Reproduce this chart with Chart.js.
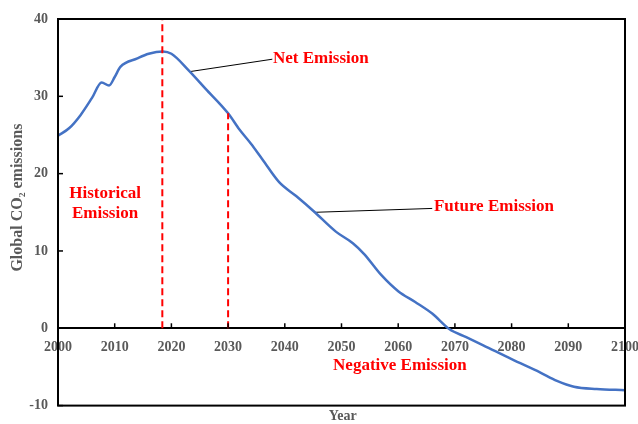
<!DOCTYPE html>
<html>
<head>
<meta charset="utf-8">
<script src="https://cdn.jsdelivr.net/npm/chart.js@4/dist/chart.umd.min.js"></script>
<style>
    html, body { margin: 0; padding: 0; background: #fff; }
    #wrap { width: 638px; height: 424px; }
</style>
</head>
<body>
<div id="wrap"><canvas id="co2-chart" width="638" height="424"></canvas></div>
<script>
// ===== Global CO2 emissions pathway, 2000-2100 =====

const years = [2000, 2002, 2004, 2006, 2007.7, 2009, 2010, 2011, 2014, 2016, 2018.5, 2020, 2023, 2026,
    2030, 2032, 2034, 2036, 2039, 2042, 2045, 2049, 2052, 2054, 2057, 2060, 2063, 2066, 2069,
    2072, 2075, 2080, 2085, 2088, 2091, 2095, 2100];
const emissions = [24.9, 25.9, 27.6, 29.8, 31.8, 31.4, 32.5, 33.8, 34.9, 35.5, 35.8, 35.5, 33.4, 31.0,
    27.8, 25.7, 23.9, 21.9, 18.9, 17.1, 15.2, 12.5, 11.0, 9.6, 6.9, 4.8, 3.4, 1.9, -0.1,
    -1.15, -2.2, -4.0, -5.7, -6.8, -7.55, -7.85, -8.0];

const xTicks = [2000, 2010, 2020, 2030, 2040, 2050, 2060, 2070, 2080, 2090, 2100];
const yTicks = [-10, 0, 10, 20, 30, 40];

// dashed markers: peak year and 2030
const peakYear = 2018.4;
const peakRange = [0, 40];
const targetYear = 2030;
const targetRange = [0, 27.8];

// leader lines from labels to the curve
const netLeaderX = [2023.3, 2037.8];
const netLeaderY = [33.2, 34.8];
const futureLeaderX = [2045.3, 2066];
const futureLeaderY = [15.0, 15.5];

// annotation labels (data coordinates)
const labels = [
    { text: 'Net Emission', x: 2037.9, y: 34.9, align: 'left' },
    { text: 'Historical', x: 2008.3, y: 17.4, align: 'center' },
    { text: 'Emission', x: 2008.3, y: 14.8, align: 'center' },
    { text: 'Future Emission', x: 2066.3, y: 15.75, align: 'left' },
    { text: 'Negative Emission', x: 2060.3, y: -4.8, align: 'center' }
];

const SERIF = "'Liberation Serif', 'Times New Roman', serif";
const GREY = '#595959';

const toPoints = (xs, ys) => xs.map((x, i) => ({ x: x, y: ys[i] }));

const decorPlugin = {
    id: 'decor',
    afterDraw(chart) {
        const { ctx, chartArea: a, scales: { x, y } } = chart;
        ctx.save();

        // plot frame
        ctx.strokeStyle = '#000';
        ctx.lineWidth = 2;
        ctx.strokeRect(a.left, a.top, a.right - a.left, a.bottom - a.top);

        // inward tick marks
        ctx.lineWidth = 1.5;
        const zero = y.getPixelForValue(0);
        xTicks.forEach(v => {
            const px = x.getPixelForValue(v);
            ctx.beginPath();
            ctx.moveTo(px, zero);
            ctx.lineTo(px, zero - 5);
            ctx.stroke();
        });
        yTicks.forEach(v => {
            const py = y.getPixelForValue(v);
            ctx.beginPath();
            ctx.moveTo(a.left, py);
            ctx.lineTo(a.left + 5, py);
            ctx.stroke();
        });

        // red annotation texts
        ctx.fillStyle = '#ff0000';
        ctx.font = 'bold 17px ' + SERIF;
        ctx.textBaseline = 'middle';
        labels.forEach(l => {
            ctx.textAlign = l.align;
            ctx.fillText(l.text, x.getPixelForValue(l.x), y.getPixelForValue(l.y));
        });

        // axis titles
        ctx.fillStyle = GREY;
        ctx.font = 'bold 14px ' + SERIF;
        ctx.textAlign = 'center';
        ctx.fillText('Year', x.getPixelForValue(2050.2), a.bottom + 11);

        ctx.font = 'bold 16px ' + SERIF;
        ctx.translate(18, y.getPixelForValue(16.9));
        ctx.rotate(-Math.PI / 2);
        ctx.fillText('Global CO\u2082 emissions', 0, 0);
        ctx.restore();
    }
};

new Chart(document.getElementById('co2-chart'), {
    type: 'line',
    data: {
        datasets: [
            {
                label: 'Peak',
                data: toPoints([peakYear, peakYear], peakRange),
                borderColor: '#ff0000',
                borderWidth: 2,
                borderDash: [7, 4],
                pointRadius: 0,
                order: 0
            },
            {
                label: '2030',
                data: toPoints([targetYear, targetYear], targetRange),
                borderColor: '#ff0000',
                borderWidth: 2,
                borderDash: [7, 4],
                pointRadius: 0,
                order: 0
            },
            {
                label: 'Net leader',
                data: toPoints(netLeaderX, netLeaderY),
                borderColor: '#000',
                borderWidth: 1,
                pointRadius: 0,
                order: 2
            },
            {
                label: 'Future leader',
                data: toPoints(futureLeaderX, futureLeaderY),
                borderColor: '#000',
                borderWidth: 1,
                pointRadius: 0,
                order: 2
            },
            {
                label: 'Global CO2 emissions',
                data: toPoints(years, emissions),
                borderColor: '#4472c4',
                borderWidth: 2.5,
                cubicInterpolationMode: 'monotone',
                pointRadius: 0,
                order: 1
            }
        ]
    },
    options: {
        responsive: false,
        animation: false,
        devicePixelRatio: 1,
        layout: { padding: { top: 19, right: 13, bottom: 17, left: 0 } },
        plugins: {
            legend: { display: false },
            tooltip: { enabled: false }
        },
        scales: {
            x: {
                type: 'linear',
                min: 2000,
                max: 2100,
                position: { y: 0 },
                afterFit: s => {
                    s.height = 0;
                    s.paddingLeft = 0;
                    s.paddingRight = 0;
                },
                grid: { display: false, drawTicks: false },
                border: { display: true, color: '#000', width: 2 },
                ticks: {
                    stepSize: 10,
                    padding: 11,
                    color: GREY,
                    font: { family: SERIF, size: 14, weight: 'bold' },
                    callback: v => String(v)
                }
            },
            y: {
                min: -10,
                max: 40,
                afterFit: s => { s.width = 58; },
                grid: { display: false, drawTicks: false },
                border: { display: false },
                ticks: {
                    stepSize: 10,
                    padding: 10,
                    color: GREY,
                    font: { family: SERIF, size: 14, weight: 'bold' }
                }
            }
        }
    },
    plugins: [decorPlugin]
});
</script>
</body>
</html>
